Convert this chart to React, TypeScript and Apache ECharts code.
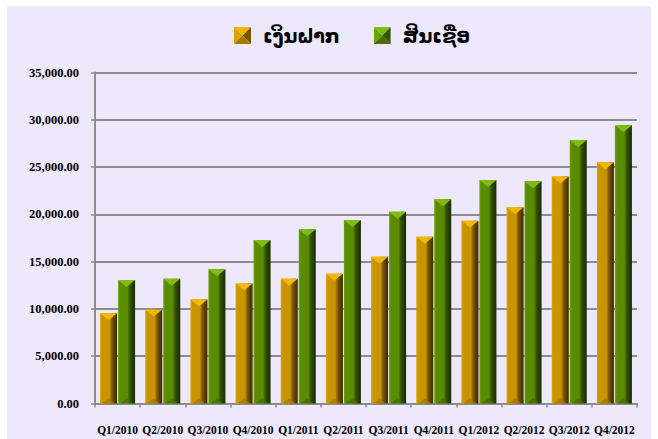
import React, { useEffect, useRef } from "react";
import * as echarts from "echarts";

const categories = [
  "Q1/2010", "Q2/2010", "Q3/2010", "Q4/2010",
  "Q1/2011", "Q2/2011", "Q3/2011", "Q4/2011",
  "Q1/2012", "Q2/2012", "Q3/2012", "Q4/2012",
];
const deposits = [9530, 9950, 11010, 12700, 13190, 13720, 15520, 17640, 19330, 20750, 23990, 25510];
const credits = [13050, 13190, 14190, 17290, 18420, 19410, 20280, 21600, 23640, 23500, 27870, 29430];
const seriesNames = ["ເງິນຝາກ", "ສິນເຊື່ອ"];
const yTicks = { min: 0, max: 35000, interval: 5000 };

const palettes = [
  { left: "#dca600", body: "#c89400", dark: "#7a5600", edge: "#3a2800", top: "#f2b800", bottom: "#a67800" },
  { left: "#6aa400", body: "#5a8c00", dark: "#345200", edge: "#1a2a00", top: "#82bc10", bottom: "#466e00" },
];

function iconUri(p: any) {
  const svg = `<svg xmlns='http://www.w3.org/2000/svg' width='17' height='17' viewBox='0 0 17 17'>` +
    `<polygon points='0,0 17,0 8.5,8.5' fill='${p.top}'/>` +
    `<polygon points='0,0 8.5,8.5 0,17' fill='${p.left}'/>` +
    `<polygon points='17,0 17,17 8.5,8.5' fill='${p.dark}'/>` +
    `<polygon points='0,17 8.5,8.5 17,17' fill='${p.bottom}'/>` +
    `</svg>`;
  return "image://data:image/svg+xml;charset=utf-8," + encodeURIComponent(svg);
}

function makeRender(si: number) {
  const p = palettes[si];
  return (params: any, api: any) => {
    const idx = api.value(0);
    const v = api.value(1);
    const top = api.coord([idx, v]);
    const base = api.coord([idx, 0]);
    const bw = 17;
    const x0 = si === 0 ? top[0] - 17.5 : top[0] + 0.5;
    const y0 = top[1];
    const h = base[1] - top[1];
    const grad = new echarts.graphic.LinearGradient(0, 0, 1, 0, [
      { offset: 0, color: p.left },
      { offset: 0.12, color: p.body },
      { offset: 0.55, color: p.body },
      { offset: 0.7, color: p.dark },
      { offset: 1, color: p.edge },
    ]);
    return {
      type: "group",
      children: [
        { type: "rect", shape: { x: x0, y: y0, width: bw, height: h }, style: { fill: grad } },
        {
          type: "polygon",
          shape: { points: [[x0, y0], [x0 + bw, y0], [x0 + bw / 2, y0 + 7]] },
          style: { fill: p.top },
        },
        {
          type: "polygon",
          shape: { points: [[x0 + 2, y0 + h], [x0 + bw - 2, y0 + h], [x0 + bw / 2, y0 + h - 5]] },
          style: { fill: p.bottom, opacity: 0.8 },
        },
      ],
    };
  };
}

export default function App() {
  const ref = useRef<HTMLDivElement>(null);
  useEffect(() => {
    if (!ref.current) return;
    const chart = echarts.init(ref.current, null, { renderer: "svg" });
    const labelFont = { fontFamily: "'Liberation Serif', 'Times New Roman', serif", fontWeight: "bold" as const, color: "#000" };
    chart.setOption({
      animation: false,
      backgroundColor: "#EEE8FC",
      legend: {
        top: 15,
        left: 222,
        itemWidth: 17,
        itemHeight: 17,
        itemGap: 34,
        textStyle: {
          fontFamily: "'DejaVu Sans', 'Noto Sans', sans-serif",
          fontWeight: "bold",
          fontSize: 19,
          color: "#000",
          padding: [0, 0, 0, 7],
        },
        data: seriesNames.map((n, i) => ({ name: n, icon: iconUri(palettes[i]) })),
      },
      grid: { left: 88, right: 14, top: 66.5, bottom: 35.5, containLabel: false },
      xAxis: {
        type: "category",
        data: categories,
        axisLine: { lineStyle: { color: "#8c8c8c", width: 2 } },
        axisTick: { show: true, length: 4, lineStyle: { color: "#8c8c8c", width: 1.5 } },
        axisLabel: { ...labelFont, fontSize: 11.5, margin: 20, interval: 0 },
      },
      yAxis: {
        type: "value",
        min: yTicks.min,
        max: yTicks.max,
        interval: yTicks.interval,
        axisLine: { show: true, lineStyle: { color: "#8c8c8c", width: 2 } },
        axisTick: { show: true, length: 4, lineStyle: { color: "#8c8c8c", width: 1.5 } },
        splitLine: { lineStyle: { color: "#8c8c8c", width: 2 } },
        axisLabel: {
          ...labelFont,
          fontSize: 12.5,
          margin: 16,
          formatter: (v: number) => v.toLocaleString("en-US", { minimumFractionDigits: 2, maximumFractionDigits: 2 }),
        },
      },
      series: [deposits, credits].map((arr, si) => ({
        name: seriesNames[si],
        type: "custom",
        renderItem: makeRender(si),
        itemStyle: { color: palettes[si].body },
        encode: { x: 0, y: 1 },
        data: arr.map((v, i) => [i, v]),
        z: 3,
      })),
    });
    return () => chart.dispose();
  }, []);
  return (
    <div
      ref={ref}
      style={{ position: "absolute", left: 7, top: 6, width: 644, height: 433 }}
    />
  );
}
